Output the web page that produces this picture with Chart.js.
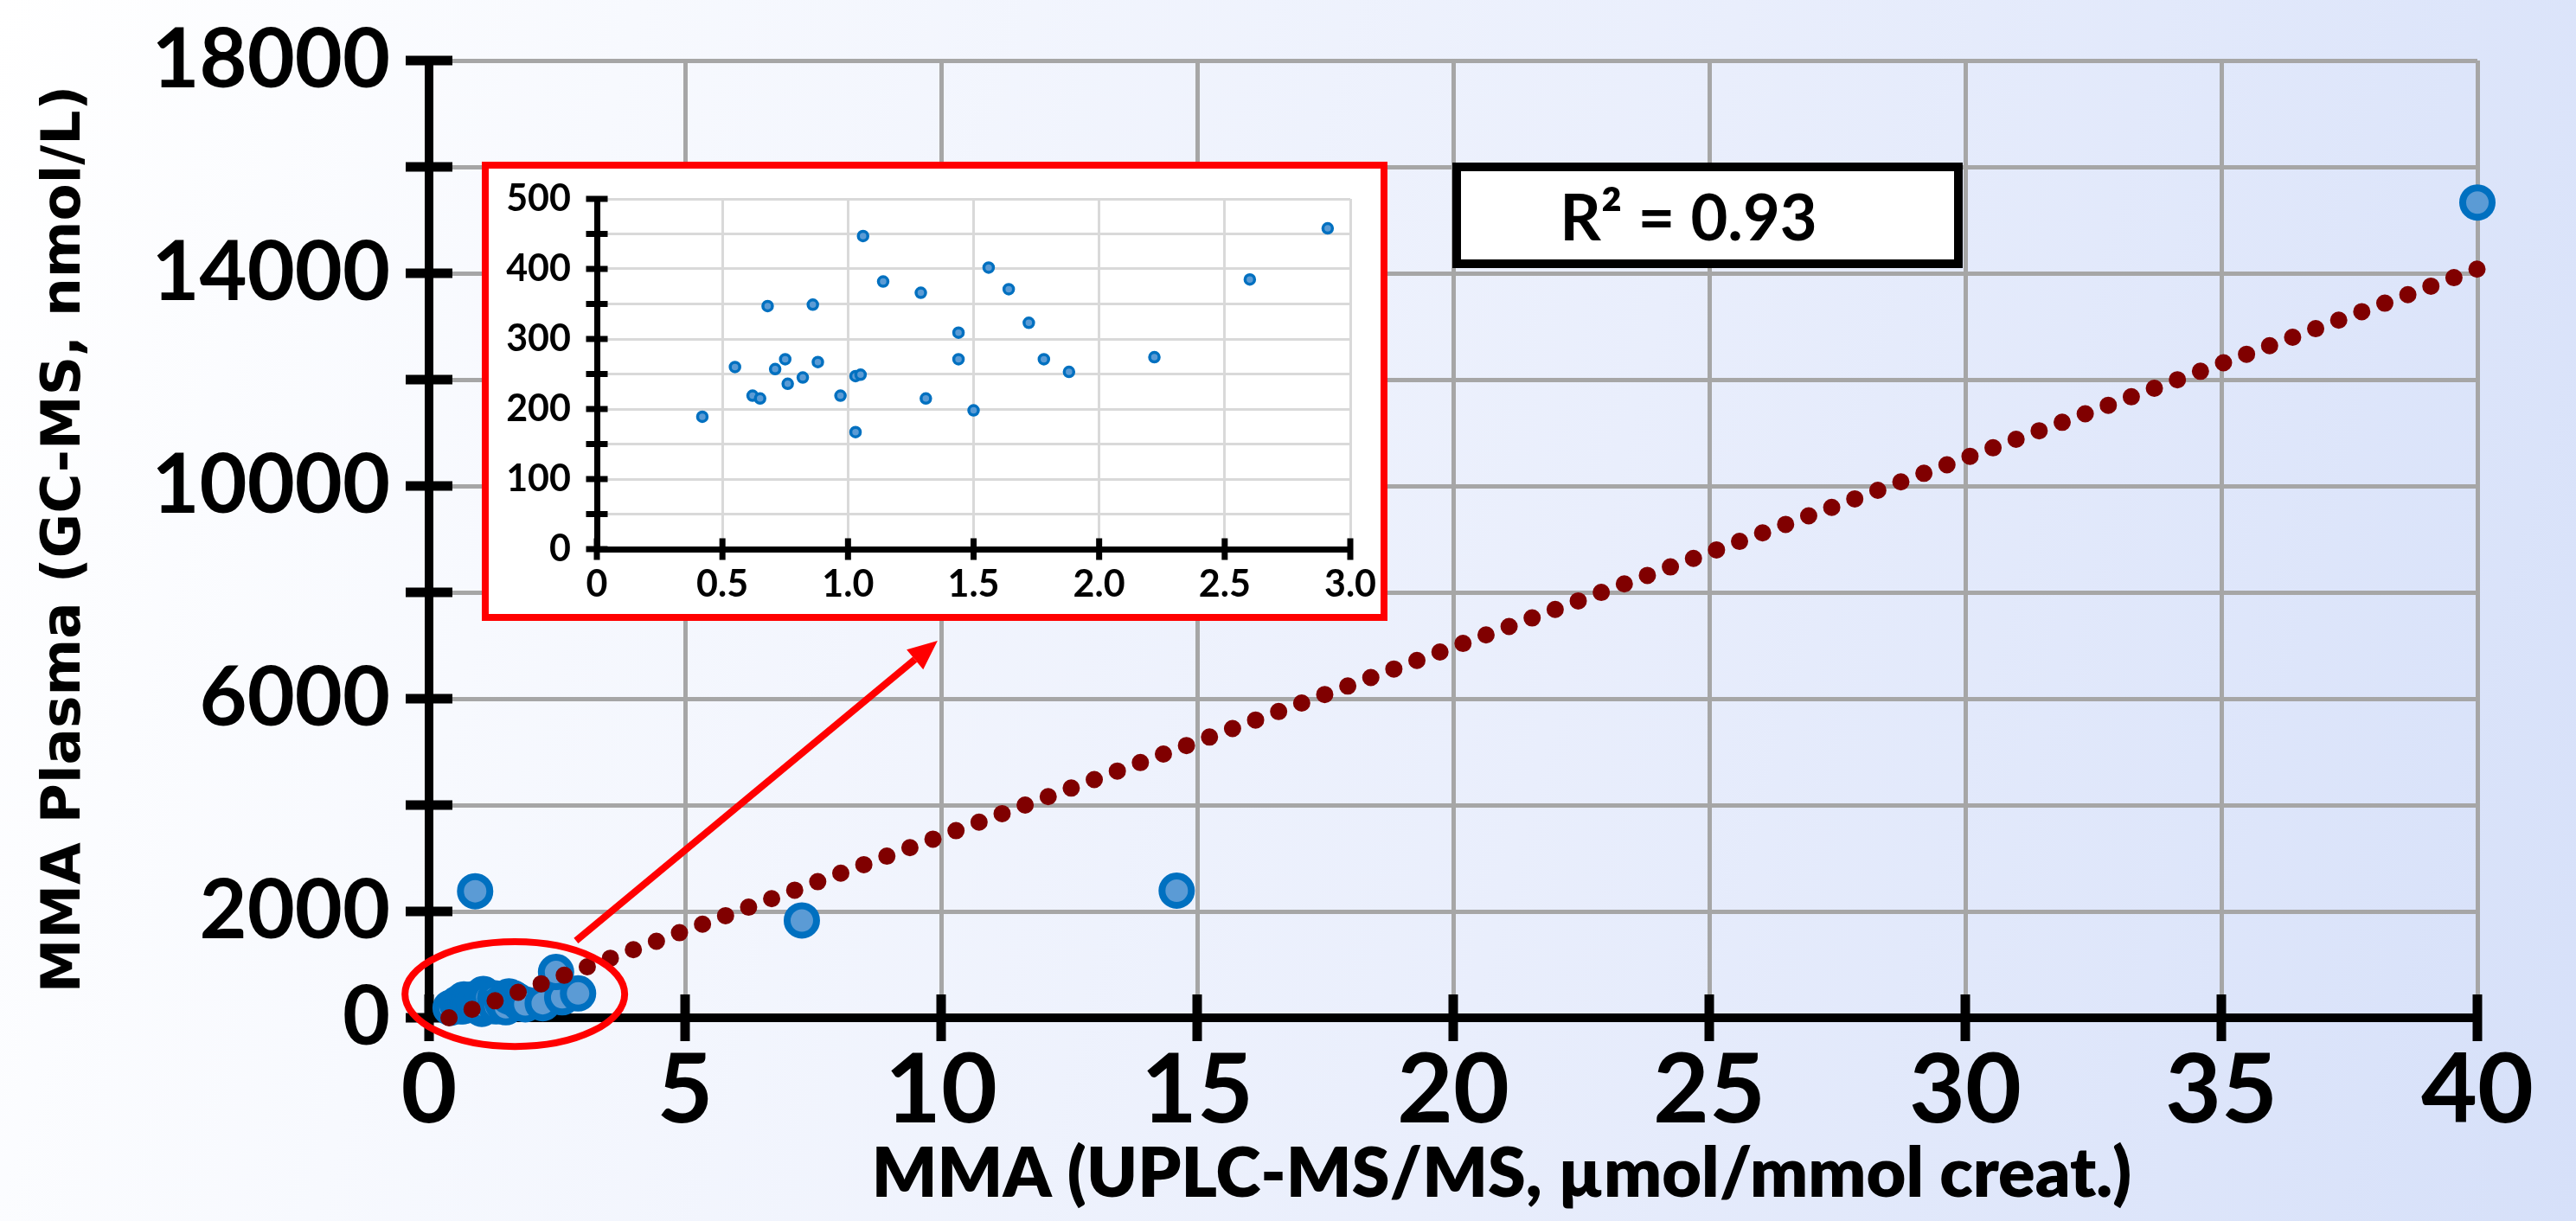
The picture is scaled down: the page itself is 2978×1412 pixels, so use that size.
<!DOCTYPE html>
<html>
<head>
<meta charset="utf-8">
<script src="https://cdn.jsdelivr.net/npm/chart.js@4.4.1/dist/chart.umd.min.js"></script>
<style>
body{margin:0}
#wrap{position:relative;width:2978px;height:1412px;overflow:hidden;
background:linear-gradient(105deg,#FFFFFF 0%,#F7F9FE 22%,#E9EEFC 60%,#D6E0F9 100%)}
#main{position:absolute;left:0;top:0;display:block}
#insetBox{position:absolute;left:557px;top:187px;width:1031px;height:515px;border:8px solid #FF0000;background:#FFFFFF}
#inset{display:block}
#r2{position:absolute;left:1679px;top:188px;width:590px;height:122px;box-sizing:border-box;border:10px solid #000;background:#FFFFFF;
display:flex;align-items:center;justify-content:center;padding-right:44px;font:bold 74px Lato,sans-serif;color:#000}
</style>
</head>
<body>
<div id="wrap">
<canvas id="main" width="2978" height="1412"></canvas>
<div id="insetBox"><canvas id="inset" width="1031" height="515"></canvas></div>
<div id="r2">R² = 0.93</div>
</div>
<script>
// =============================
// DATA
// =============================
// low-range cluster (shown in the inset and in the main plot)
let insetX = [0.42,0.55,0.62,0.65,0.68,0.71,0.75,0.76,0.82,0.86,0.88,0.97,1.03,1.03,1.05,1.06,1.14,1.29,1.31,1.44,1.44,1.50,1.56,1.64,1.72,1.78,1.88,2.22,2.60,2.91]
let insetY = [189,260,219,215,347,257,271,236,245,349,267,219,167,247,249,447,382,366,215,309,271,198,402,371,323,271,253,274,385,458]

// points only visible on the main plot
let mainExtraX = [0.9, 2.48, 7.28, 14.6, 40]
let mainExtraY = [2380, 860, 1830, 2390, 15330]

// linear trendline end points
let trendX = [0.39, 40]
let trendY = [0, 14080]

// tick labels
let xTickLabels = ["0","5","10","15","20","25","30","35","40"]
let yTickLabeled = [0,2000,6000,10000,14000,18000]
let insetXTickLabels = ["0","0.5","1.0","1.5","2.0","2.5","3.0"]
let insetYLabeled = [0,100,200,300,400,500]

// callout (ellipse round the cluster, arrow to the inset), in data units
let ellipseX = [-0.47, 3.82]
let ellipseY = [-540, 1430]
let arrowFrom = [2.87, 1450]
let arrowTo = [9.93, 7090]

function pts(xs, ys){
return xs.map((x,i)=>({x:x, y:ys[i]}))
}

// =============================
// Ticks crossing the axis line
// =============================
const crossTicks = {
id:"crossTicks",
beforeDatasetsDraw(chart, args, opts){
let ctx = chart.ctx
let a = chart.chartArea
let xs = chart.scales.x
let ys = chart.scales.y
ctx.save()
ctx.strokeStyle = "#000"
ctx.lineWidth = opts.width
ctx.beginPath()
xs.ticks.forEach(t=>{
let px = xs.getPixelForValue(t.value)
ctx.moveTo(px, a.bottom - opts.len)
ctx.lineTo(px, a.bottom + opts.len)
})
ys.ticks.forEach(t=>{
let py = ys.getPixelForValue(t.value)
ctx.moveTo(a.left - opts.len, py)
ctx.lineTo(a.left + opts.len, py)
})
ctx.stroke()
ctx.restore()
}
}

// =============================
// Callout + x title on main chart
// =============================
const callout = {
id:"callout",
afterDraw(chart){
let ctx = chart.ctx
let xs = chart.scales.x
let ys = chart.scales.y
ctx.save()

// ellipse
let ex1 = xs.getPixelForValue(ellipseX[0]), ex2 = xs.getPixelForValue(ellipseX[1])
let ey1 = ys.getPixelForValue(ellipseY[1]), ey2 = ys.getPixelForValue(ellipseY[0])
ctx.strokeStyle = "#FF0000"
ctx.lineWidth = 8
ctx.beginPath()
ctx.ellipse((ex1+ex2)/2, (ey1+ey2)/2, (ex2-ex1)/2, (ey2-ey1)/2, 0, 0, Math.PI*2)
ctx.stroke()

// arrow
let x1 = xs.getPixelForValue(arrowFrom[0]), y1 = ys.getPixelForValue(arrowFrom[1])
let x2 = xs.getPixelForValue(arrowTo[0]), y2 = ys.getPixelForValue(arrowTo[1])
let ang = Math.atan2(y2-y1, x2-x1)
let head = 34, half = 15
let bx = x2 - head*Math.cos(ang), by = y2 - head*Math.sin(ang)
ctx.lineWidth = 8
ctx.beginPath()
ctx.moveTo(x1, y1)
ctx.lineTo(bx, by)
ctx.stroke()
ctx.fillStyle = "#FF0000"
ctx.beginPath()
ctx.moveTo(x2, y2)
ctx.lineTo(bx + half*Math.sin(ang), by - half*Math.cos(ang))
ctx.lineTo(bx - half*Math.sin(ang), by + half*Math.cos(ang))
ctx.closePath()
ctx.fill()

// x axis title
ctx.fillStyle = "#000"
ctx.font = "800 79px Lato"
ctx.textAlign = "center"
ctx.textBaseline = "alphabetic"
ctx.fillText("MMA (UPLC-MS/MS, µmol/mmol creat.)", 1736, 1384)

ctx.restore()
}
}

function draw(){

// =============================
// MAIN SCATTER
// =============================
new Chart(document.getElementById("main"),{
type:"scatter",
data:{
datasets:[
{
type:"line",
data:pts(trendX, trendY),
borderColor:"#800000",
borderWidth:20,
borderDash:[0,28.4],
borderCapStyle:"round",
pointRadius:0,
fill:false,
order:0,
clip:false
},
{
data:pts(insetX, insetY).concat(pts(mainExtraX, mainExtraY)),
backgroundColor:"#5B9BD5",
borderColor:"#0070C0",
borderWidth:8,
pointRadius:17,
order:1,
clip:false
}
]
},
options:{
responsive:false,
animation:false,
events:[],
layout:{padding:{top:70, right:114, left:0, bottom:0}},
plugins:{
legend:{display:false},
tooltip:{enabled:false},
crossTicks:{width:11, len:27}
},
scales:{
x:{
type:"linear",
min:0, max:40,
afterFit(s){ s.height = 235 },
ticks:{
stepSize:5,
padding:18,
color:"#000",
font:{family:"Lato", weight:"bold", size:112},
callback:(v,i)=>xTickLabels[i]
},
grid:{color:"#A6A6A6", lineWidth:5, drawTicks:false},
border:{color:"#000", width:10}
},
y:{
min:0, max:18000,
afterFit(s){ s.width = 496 },
ticks:{
stepSize:2000,
padding:45,
color:"#000",
font:{family:"Lato", weight:"bold", size:95, lineHeight:0.2},
callback:v=>yTickLabeled.includes(v) ? String(v) : ""
},
grid:{color:"#A6A6A6", lineWidth:5, drawTicks:false},
border:{color:"#000", width:10},
title:{
display:true,
text:"MMA Plasma (GC-MS, nmol/L)",
color:"#000",
font:{family:"DejaVu Sans", weight:"bold", size:63},
padding:{top:38, bottom:0}
}
}
}
},
plugins:[crossTicks, callout]
})

// =============================
// INSET (zoom of the low range)
// =============================
new Chart(document.getElementById("inset"),{
type:"scatter",
data:{
datasets:[{
data:pts(insetX, insetY),
backgroundColor:"#5B9BD5",
borderColor:"#0070C0",
borderWidth:3.5,
pointRadius:5.5,
clip:false
}]
},
options:{
responsive:false,
animation:false,
events:[],
layout:{padding:{top:35, right:35, left:0, bottom:0}},
plugins:{
legend:{display:false},
tooltip:{enabled:false},
crossTicks:{width:7, len:12.5}
},
scales:{
x:{
type:"linear",
min:0, max:3,
afterFit(s){ s.height = 75 },
ticks:{
stepSize:0.5,
padding:0,
color:"#000",
font:{family:"Lato", weight:"bold", size:43, lineHeight:1.9},
callback:(v,i)=>insetXTickLabels[i]
},
grid:{color:"#D9D9D9", lineWidth:3, drawTicks:false},
border:{color:"#000", width:7}
},
y:{
min:0, max:500,
afterFit(s){ s.width = 125 },
ticks:{
stepSize:50,
padding:30,
color:"#000",
font:{family:"Lato", weight:"bold", size:43, lineHeight:0.2},
callback:v=>insetYLabeled.includes(v) ? String(v) : ""
},
grid:{color:"#D9D9D9", lineWidth:3, drawTicks:false},
border:{color:"#000", width:7}
}
}
},
plugins:[crossTicks]
})

}

Promise.all([
document.fonts.load("bold 95px Lato"),
document.fonts.load("800 79px Lato"),
document.fonts.load("bold 63px 'DejaVu Sans'")
]).then(draw).catch(err=>{ console.log("font error:",err); draw() })
</script>
</body>
</html>
